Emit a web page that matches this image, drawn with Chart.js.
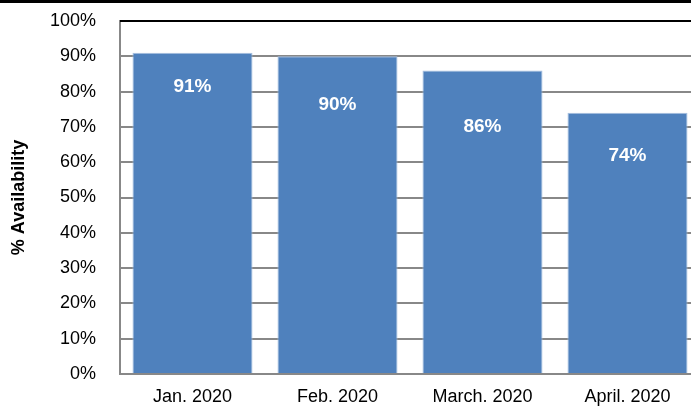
<!DOCTYPE html>
<html>
<head>
<meta charset="utf-8">
<script src="https://cdn.jsdelivr.net/npm/chart.js@4.4.0/dist/chart.umd.min.js"></script>
<style>
html,body{margin:0;padding:0;background:#fff;overflow:hidden;width:691px;height:408px;}
canvas{display:block;}
</style>
</head>
<body>
<canvas id="c" width="700" height="408" style="width:700px;height:408px"></canvas>
<script>
const categories = ["Jan. 2020", "Feb. 2020", "March. 2020", "April. 2020"];
const availability = [91, 90, 86, 74];
const valueLabels = ["91%", "90%", "86%", "74%"];
const yTicks = [0, 10, 20, 30, 40, 50, 60, 70, 80, 90, 100];
const labelDrop = [34, 48, 56, 43];

const FONT = "'Liberation Sans', Arial, sans-serif";

const decor = {
  id: 'decor',
  beforeDraw(chart) {
    const ctx = chart.ctx;
    ctx.save();
    ctx.fillStyle = '#fff';
    ctx.fillRect(0, 0, chart.width, chart.height);
    ctx.restore();
  },
  afterDraw(chart) {
    const ctx = chart.ctx;
    const a = chart.chartArea;
    ctx.save();
    ctx.fillStyle = '#000';
    ctx.fillRect(0, 0, chart.width, 3);
    ctx.fillRect(a.left, a.top - 1, chart.width - a.left, 2);
    const meta = chart.getDatasetMeta(0);
    ctx.fillStyle = '#fff';
    ctx.font = "bold 19px " + FONT;
    ctx.textAlign = 'center';
    ctx.textBaseline = 'middle';
    meta.data.forEach((bar, i) => {
      ctx.fillText(valueLabels[i], bar.x, bar.y + labelDrop[i]);
    });
    ctx.restore();
  }
};

new Chart(document.getElementById('c'), {
  type: 'bar',
  data: {
    labels: categories,
    datasets: [{
      data: availability,
      backgroundColor: '#4F81BD',
      borderColor: '#A7C0E0',
      borderWidth: 1,
      categoryPercentage: 1,
      barPercentage: 0.828
    }]
  },
  options: {
    responsive: false,
    animation: false,
    devicePixelRatio: 1,
    layout: { padding: { top: 21, left: 0, right: 0, bottom: 0 } },
    plugins: { legend: { display: false }, tooltip: { enabled: false } },
    scales: {
      x: {
        grid: { display: false, drawTicks: false },
        border: { display: true, color: '#888888', width: 2 },
        ticks: { color: '#000', font: { family: FONT, size: 18 }, padding: 12, maxRotation: 0 },
        afterFit(s) { s.height = 34; s.paddingLeft = 0; s.paddingRight = 0; }
      },
      y: {
        min: 0, max: 100,
        afterBuildTicks(s) { s.ticks = yTicks.map(v => ({ value: v })); },
        grid: { color: '#888888', lineWidth: 2, drawTicks: false },
        border: { display: true, color: '#888888', width: 2 },
        ticks: {
          color: '#000', font: { family: FONT, size: 18 }, padding: 24,
          callback: v => v + '%'
        },
        title: {
          display: true, text: '% Availability', color: '#000',
          font: { family: FONT, size: 18, weight: 'bold' }, padding: { top: 8, bottom: 0 }
        },
        afterFit(s) { s.width = 120; s.paddingTop = 0; s.paddingBottom = 0; }
      }
    }
  },
  plugins: [decor]
});
</script>
</body>
</html>
